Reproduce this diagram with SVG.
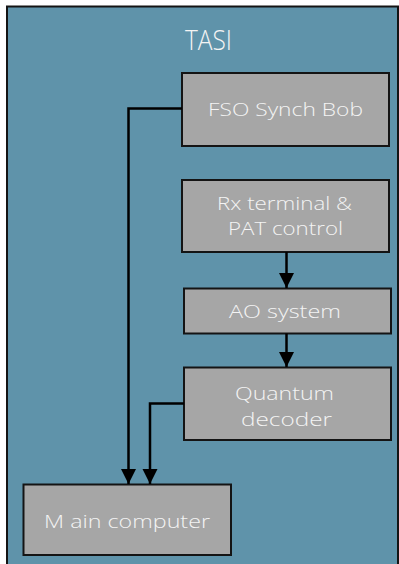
<svg xmlns="http://www.w3.org/2000/svg" width="399" height="564" viewBox="0 0 399 564">
  <style>
    .panel { fill: #5f93aa; stroke: #141414; stroke-width: 2; }
    .box { fill: #a6a6a6; stroke: #141414; stroke-width: 2; }
    .lbl { font-family: "Open Sans", "DejaVu Sans", sans-serif; font-weight: 300; fill: #f4f4f4; font-size: 19px; }
    .title { font-size: 27px; }
    .wire { fill: none; stroke: #000; stroke-width: 2.5; }
  </style>
  <defs>
    <marker id="head" markerUnits="userSpaceOnUse" markerWidth="16" markerHeight="16" refX="15" refY="7.5" orient="auto">
      <path d="M0,0 L15,7.5 L0,15 Z" fill="#000"/>
    </marker>
  </defs>

  <!-- enclosing TASI panel -->
  <g id="tasi">
    <rect class="panel" x="7" y="6.5" width="391" height="600"/>
    <text class="lbl title" x="185" y="49.5" textLength="47" lengthAdjust="spacingAndGlyphs">TASI</text>
  </g>

  <g id="fso-synch-bob">
    <rect class="box" x="182" y="73" width="207" height="73"/>
    <text class="lbl" x="208" y="115.5" textLength="155" lengthAdjust="spacingAndGlyphs">FSO Synch Bob</text>
  </g>

  <g id="rx-terminal">
    <rect class="box" x="182" y="180" width="207" height="72"/>
    <text class="lbl" x="217" y="210" textLength="135" lengthAdjust="spacingAndGlyphs">Rx terminal &amp;</text>
    <text class="lbl" x="228" y="234.5" textLength="115" lengthAdjust="spacingAndGlyphs">PAT control</text>
  </g>

  <g id="ao-system">
    <rect class="box" x="184" y="288.5" width="207" height="45"/>
    <text class="lbl" x="229" y="318" textLength="112" lengthAdjust="spacingAndGlyphs">AO system</text>
  </g>

  <g id="quantum-decoder">
    <rect class="box" x="184" y="367.5" width="207" height="72.5"/>
    <text class="lbl" x="235" y="399.5" textLength="99" lengthAdjust="spacingAndGlyphs">Quantum</text>
    <text class="lbl" x="241" y="425.5" textLength="91" lengthAdjust="spacingAndGlyphs">decoder</text>
  </g>

  <g id="main-computer">
    <rect class="box" x="23.5" y="484.5" width="207.5" height="70.5"/>
    <text class="lbl" x="44" y="528" textLength="166" lengthAdjust="spacingAndGlyphs">M ain computer</text>
  </g>

  <g id="connectors">
    <path class="wire" d="M182,108.5 H128.5 V484" marker-end="url(#head)"/>
    <path class="wire" d="M286.5,252 V288" marker-end="url(#head)"/>
    <path class="wire" d="M286.5,333.5 V367" marker-end="url(#head)"/>
    <path class="wire" d="M184,403.5 H150 V484" marker-end="url(#head)"/>
  </g>
</svg>
